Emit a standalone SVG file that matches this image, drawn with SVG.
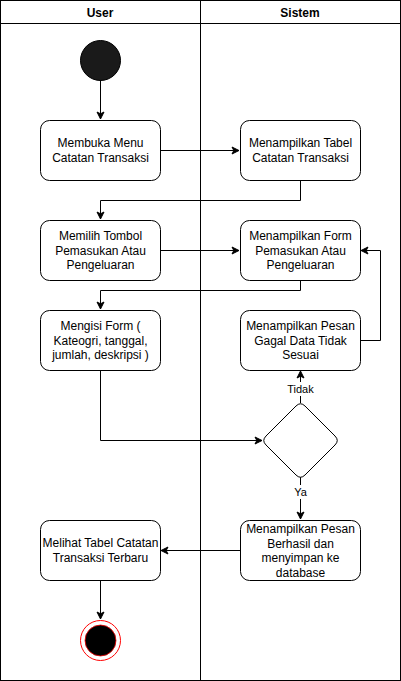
<svg xmlns="http://www.w3.org/2000/svg" width="401" height="681" viewBox="0 0 401 681">
<style>
.box{fill:#fff;stroke:#000;stroke-width:1}
.t{font-family:"Liberation Sans",Arial,sans-serif;font-size:12px;fill:#000;text-anchor:middle}
.h{font-weight:bold}
.lbl{font-family:"Liberation Sans",Arial,sans-serif;font-size:11px;fill:#000;text-anchor:middle}
.e{fill:none;stroke:#000;stroke-width:1}
</style>
<defs>
<marker id="ar" markerWidth="10" markerHeight="10" refX="8" refY="5" orient="auto" markerUnits="userSpaceOnUse">
<path d="M1,1.5 L8,5 L1,8.5 L2.8,5 Z" fill="#000" stroke="#000" stroke-width="1"/>
</marker>
</defs>
<rect x="0.5" y="0.5" width="400" height="680" fill="#fff" stroke="#000"/>
<line x1="0.5" y1="23.5" x2="400.5" y2="23.5" stroke="#000"/>
<line x1="200.5" y1="0.5" x2="200.5" y2="680.5" stroke="#000"/>
<text class="t h" x="100" y="17">User</text>
<text class="t h" x="300" y="17">Sistem</text>
<g id="connectors">
<path class="e" d="M100.5,80 L100.5,119" marker-end="url(#ar)"/>
<path class="e" d="M160,150.5 L239,150.5" marker-end="url(#ar)"/>
<path class="e" d="M300.5,180 L300.5,200.5 L100.5,200.5 L100.5,219" marker-end="url(#ar)"/>
<path class="e" d="M160,250.5 L239,250.5" marker-end="url(#ar)"/>
<path class="e" d="M300.5,280 L300.5,290.5 L100.5,290.5 L100.5,309" marker-end="url(#ar)"/>
<path class="e" d="M360,340.5 L380.5,340.5 L380.5,250.5 L361,250.5" marker-end="url(#ar)"/>
<path class="e" d="M100.5,370 L100.5,440.5 L262,440.5" marker-end="url(#ar)"/>
<path class="e" d="M300.5,403 L300.5,371" marker-end="url(#ar)"/>
<path class="e" d="M300.5,477 L300.5,519" marker-end="url(#ar)"/>
<path class="e" d="M240,550.5 L161,550.5" marker-end="url(#ar)"/>
<path class="e" d="M100.5,580 L100.5,619" marker-end="url(#ar)"/>
<rect x="285" y="382" width="31" height="14" fill="#fff"/>
<text class="lbl" x="300.5" y="393">Tidak</text>
<rect x="292" y="485" width="17" height="14" fill="#fff"/>
<text class="lbl" x="300.5" y="496">Ya</text>
</g>
<g id="start">
<circle cx="100.5" cy="60.5" r="20" fill="#1a1a1a" stroke="#000"/>
</g>
<g id="n1">
<rect class="box" x="40.5" y="120.5" width="120" height="60" rx="9"/>
<text class="t" x="100.5" y="147">Membuka Menu</text>
<text class="t" x="100.5" y="161.5">Catatan Transaksi</text>
</g>
<g id="n2">
<rect class="box" x="240.5" y="120.5" width="120" height="60" rx="9"/>
<text class="t" x="300.5" y="147">Menampilkan Tabel</text>
<text class="t" x="300.5" y="161.5">Catatan Transaksi</text>
</g>
<g id="n3">
<rect class="box" x="40.5" y="220.5" width="120" height="60" rx="9"/>
<text class="t" x="100.5" y="240">Memilih Tombol</text>
<text class="t" x="100.5" y="254.5">Pemasukan Atau</text>
<text class="t" x="100.5" y="269">Pengeluaran</text>
</g>
<g id="n4">
<rect class="box" x="240.5" y="220.5" width="120" height="60" rx="9"/>
<text class="t" x="300.5" y="240">Menampilkan Form</text>
<text class="t" x="300.5" y="254.5">Pemasukan Atau</text>
<text class="t" x="300.5" y="269">Pengeluaran</text>
</g>
<g id="n5">
<rect class="box" x="40.5" y="310.5" width="120" height="60" rx="9"/>
<text class="t" x="100.5" y="330">Mengisi Form (</text>
<text class="t" x="100.5" y="344.5">Kateogri, tanggal,</text>
<text class="t" x="100.5" y="359">jumlah, deskripsi )</text>
</g>
<g id="n6">
<rect class="box" x="240.5" y="310.5" width="120" height="60" rx="9"/>
<text class="t" x="300.5" y="330">Menampilkan Pesan</text>
<text class="t" x="300.5" y="344.5">Gagal Data Tidak</text>
<text class="t" x="300.5" y="359">Sesuai</text>
</g>
<g id="decision">
<path d="M296,406 Q300.5,401.5 305,406 L335,436 Q339.5,440.5 335,445 L305,475 Q300.5,479.5 296,475 L266,445 Q261.5,440.5 266,436 Z" fill="#fff" stroke="#000"/>
</g>
<g id="n7">
<rect class="box" x="240.5" y="520.5" width="120" height="60" rx="9"/>
<text class="t" x="300.5" y="533">Menampilkan Pesan</text>
<text class="t" x="300.5" y="547.5">Berhasil dan</text>
<text class="t" x="300.5" y="562">menyimpan ke</text>
<text class="t" x="300.5" y="576.5">database</text>
</g>
<g id="n8">
<rect class="box" x="40.5" y="520.5" width="120" height="60" rx="9"/>
<text class="t" x="100.5" y="547">Melihat Tabel Catatan</text>
<text class="t" x="100.5" y="561.5">Transaksi Terbaru</text>
</g>
<g id="end">
<circle cx="100.5" cy="640.5" r="20" fill="#fff" stroke="#ff0000"/>
<circle cx="100.5" cy="640.5" r="15.5" fill="#000" stroke="#ff0000" stroke-width="0.8"/>
</g>
</svg>
